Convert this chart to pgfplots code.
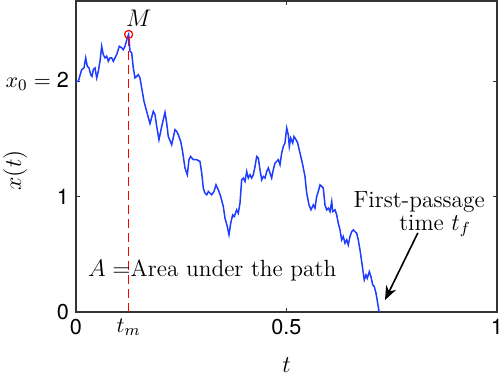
\documentclass[border=0pt]{standalone}
\usepackage{fontspec}
\usepackage{pgfplots}
\usepackage{pgfplotstable}
\pgfplotsset{compat=1.18}
\usetikzlibrary{arrows.meta}
\newfontfamily\helv{TeX Gyre Heros}
\definecolor{pathblue}{RGB}{30,60,255}
\pgfplotstableread{
t x
0.0000 2.000
0.0055 2.003
0.0135 2.104
0.0190 2.119
0.0230 2.206
0.0268 2.133
0.0309 2.119
0.0349 2.061
0.0380 2.046
0.0411 2.104
0.0451 2.119
0.0492 2.032
0.0530 2.090
0.0570 2.177
0.0610 2.307
0.0648 2.235
0.0689 2.206
0.0729 2.220
0.0767 2.177
0.0808 2.206
0.0848 2.206
0.0886 2.177
0.0926 2.206
0.0967 2.235
0.1029 2.307
0.1086 2.293
0.1124 2.278
0.1164 2.307
0.1219 2.380
0.1250 2.410
0.1283 2.263
0.1323 2.250
0.1361 2.119
0.1401 2.032
0.1442 2.046
0.1480 2.061
0.1520 2.032
0.1561 1.945
0.1615 1.829
0.1679 1.742
0.1758 1.635
0.1836 1.742
0.1876 1.713
0.1917 1.611
0.1971 1.496
0.2036 1.611
0.2114 1.733
0.2154 1.641
0.2192 1.524
0.2273 1.452
0.2352 1.583
0.2392 1.568
0.2430 1.539
0.2487 1.481
0.2525 1.409
0.2589 1.250
0.2644 1.191
0.2684 1.322
0.2724 1.350
0.2786 1.322
0.2867 1.322
0.2945 1.307
0.2986 1.206
0.3024 1.076
0.3064 1.032
0.3105 1.017
0.3143 1.046
0.3223 1.017
0.3278 1.046
0.3325 1.104
0.3380 1.061
0.3437 1.003
0.3499 0.916
0.3539 0.815
0.3594 0.742
0.3634 0.670
0.3675 0.771
0.3722 0.843
0.3760 0.829
0.3817 0.887
0.3855 0.858
0.3895 0.945
0.3936 1.148
0.3974 1.163
0.4014 1.133
0.4055 1.220
0.4093 1.163
0.4133 1.191
0.4173 1.163
0.4211 1.191
0.4252 1.263
0.4292 1.350
0.4330 1.337
0.4370 1.235
0.4411 1.148
0.4449 1.177
0.4489 1.163
0.4530 1.220
0.4568 1.250
0.4608 1.206
0.4648 1.163
0.4686 1.235
0.4727 1.293
0.4767 1.307
0.4805 1.322
0.4846 1.278
0.4886 1.380
0.4924 1.437
0.4964 1.467
0.5005 1.597
0.5043 1.539
0.5067 1.437
0.5100 1.510
0.5147 1.467
0.5178 1.524
0.5226 1.496
0.5266 1.467
0.5321 1.380
0.5385 1.278
0.5439 1.177
0.5480 1.032
0.5534 0.930
0.5582 0.887
0.5637 0.930
0.5677 0.902
0.5717 1.003
0.5755 1.046
0.5796 1.104
0.5836 1.090
0.5874 1.076
0.5914 0.930
0.5955 0.887
0.5993 0.902
0.6033 0.872
0.6074 0.959
0.6097 0.872
0.6152 0.887
0.6192 0.843
0.6230 0.771
0.6271 0.713
0.6311 0.626
0.6349 0.655
0.6390 0.597
0.6430 0.626
0.6468 0.583
0.6508 0.655
0.6549 0.698
0.6587 0.713
0.6627 0.698
0.6667 0.684
0.6705 0.626
0.6746 0.539
0.6786 0.437
0.6824 0.337
0.6848 0.278
0.6888 0.322
0.6919 0.293
0.6967 0.350
0.7007 0.307
0.7048 0.235
0.7086 0.220
0.7126 0.163
0.7166 0.076
0.7200 0.000
}\pathdata
\begin{document}
\begin{tikzpicture}[font=\fontsize{11.7}{14}\selectfont]
\begin{axis}[name=ax, at={(0,0)}, anchor=south west,
  scale only axis, width=210.5pt, height=155.5pt,
  xmin=0, xmax=1, ymin=0, ymax=2.7,
  xtick={0,0.5,1}, xticklabels={0,0.5,1},
  ytick={0,1,2}, yticklabels={0,1,{$x_0 = {}$2}},
  extra x ticks={0.125}, extra x tick labels={$t_m$},
  extra x tick style={major tick length=0pt},
  tick align=inside, major tick length=2pt,
  ticklabel style={font=\helv\fontsize{10.8}{12}\selectfont},
  axis line style={line width=0.6pt, black!80},
  every tick/.style={black!80, line width=0.5pt},
  clip=false]
\addplot[pathblue, line width=0.75pt] table[x=t, y=x] {\pathdata};
\addplot[red, line width=0.6pt, dash pattern=on 4.5pt off 2.5pt] coordinates {(0.125,0) (0.125,2.37)};
\addplot[red, only marks, mark=o, mark size=2pt, mark options={line width=0.6pt}] coordinates {(0.125,2.41)};
\node at (axis cs:0.149,2.55) {$M$};
\node[anchor=west, inner sep=0pt] at (axis cs:0.028,0.365) {$A=$Area under the path};
\node at (axis cs:0.815,0.957) {First-passage};
\node at (axis cs:0.853,0.748) {time $t_f$};
\draw[-{Stealth[length=7pt, width=5.5pt]}, line width=0.8pt] (axis cs:0.812,0.687) -- (axis cs:0.734,0.104);
\end{axis}
\node[rotate=90] at ([xshift=-30.5pt]ax.west |- 0,70.8pt) {$x(t)$};
\node at ([yshift=-26.5pt]ax.south) {$t$};
\pgfresetboundingbox
\path[use as bounding box] ([shift={(-38pt,-31pt)}]ax.south west) rectangle ([shift={(1.5pt,0.5pt)}]ax.north east);
\end{tikzpicture}
\end{document}
